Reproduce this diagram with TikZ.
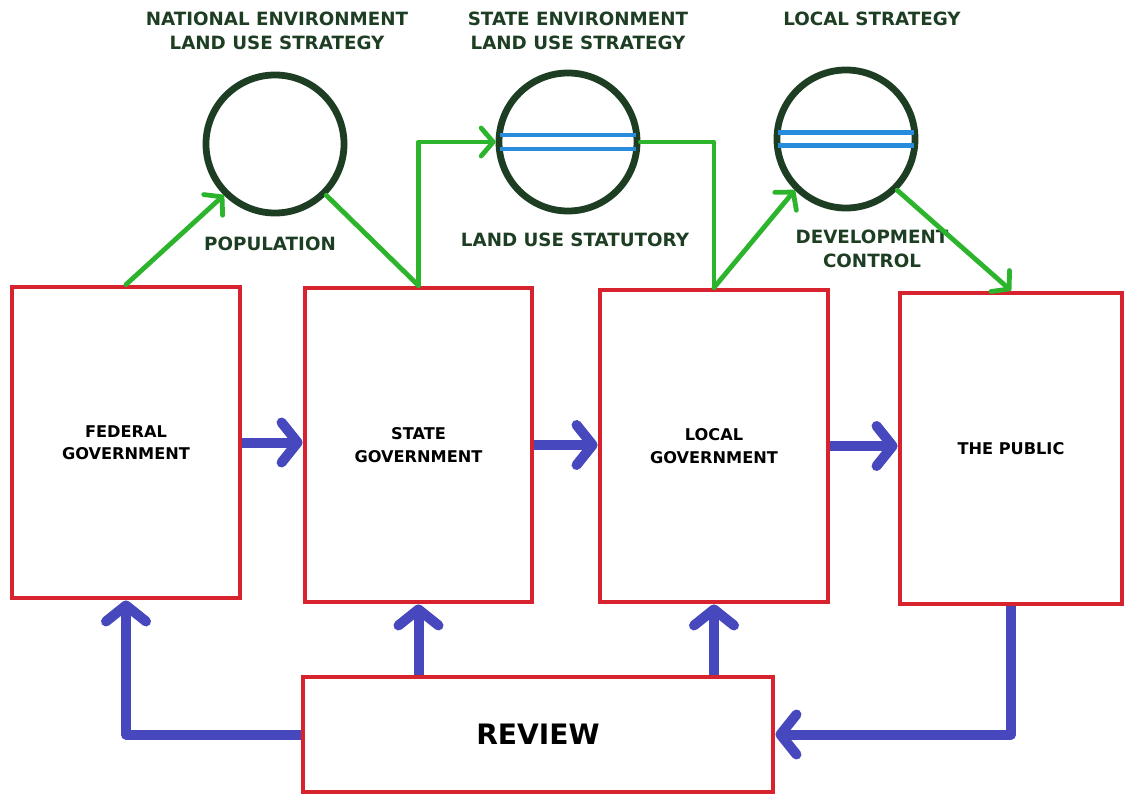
\documentclass[tikz,border=0pt]{standalone}
\usepackage{fontspec}
\setmainfont{DejaVu Sans}
\usetikzlibrary{arrows.meta,calc}
\definecolor{boxred}{RGB}{214,35,45}
\definecolor{ringgreen}{RGB}{30,62,36}
\definecolor{flowgreen}{RGB}{45,180,45}
\definecolor{flowblue}{RGB}{72,72,190}
\definecolor{stripeblue}{RGB}{40,140,220}
\tikzstyle{govbox}=[rectangle, draw=boxred, line width=0.12cm, align=center, font=\bfseries\fontsize{11.5}{16}\selectfont]
\tikzstyle{ring}=[circle, draw=ringgreen, line width=0.17cm, minimum size=3.45cm, inner sep=0pt]
\tikzstyle{tag}=[align=center, text=ringgreen, font=\bfseries\fontsize{13}{17}\selectfont]
\tikzstyle{stripe}=[draw=stripeblue, line width=0.12cm]
\tikzstyle{greenflow}=[draw=flowgreen, line width=0.12cm, line cap=round, line join=round]
\tikzstyle{greenarrow}=[greenflow, -{Straight Barb[round,length=3mm,width=7mm]}]
\tikzstyle{bluearrow}=[draw=flowblue, line width=0.25cm, line join=round, -{Straight Barb[round,length=4mm,width=10mm]}]

\begin{document}
\begin{tikzpicture}[x=0.025cm, y=-0.025cm]
		   \useasboundingbox (0,0) rectangle (1126,795);
		   \begin{scope}
			   \node (fed) at (126, 442.5) [govbox, minimum width=5.7cm, minimum height=7.775cm] {FEDERAL\\GOVERNMENT};
			   \node (state) at (418.5, 445) [govbox, minimum width=5.675cm, minimum height=7.85cm] {STATE\\GOVERNMENT};
			   \node (local) at (714, 446) [govbox, minimum width=5.7cm, minimum height=7.8cm] {LOCAL\\GOVERNMENT};
			   \node (pub) at (1011, 448.5) [govbox, minimum width=5.55cm, minimum height=7.775cm] {THE PUBLIC};
			   \node (review) at (538, 734.5) [govbox, minimum width=11.75cm, minimum height=2.875cm, font=\bfseries\fontsize{20}{24}\selectfont] {REVIEW};

			   \node (c1) at (275, 144) [ring] {};
			   \node (c2) at (568, 142) [ring] {};
			   \node (c3) at (846, 139) [ring] {};

			   \node (t1) at (277, 31) [tag] {NATIONAL ENVIRONMENT\\LAND USE STRATEGY};
			   \node (t2) at (578, 31) [tag] {STATE ENVIRONMENT\\LAND USE STRATEGY};
			   \node (t3) at (872, 19) [tag] {LOCAL STRATEGY};
			   \node (t4) at (270, 244) [tag] {POPULATION};
			   \node (t5) at (575, 240) [tag] {LAND USE STATUTORY};
			   \node (t6) at (872, 249) [tag] {DEVELOPMENT\\CONTROL};
		   \end{scope}
		   \begin{scope}
			   % stripes across the two strategy rings
			   \draw [stripe] ($(c2.west)+(4,-7)$) -- ($(c2.east)+(-4,-7)$);
			   \draw [stripe] ($(c2.west)+(4,7)$) -- ($(c2.east)+(-4,7)$);
			   \draw [stripe] ($(c3.west)+(4,-6.5)$) -- ($(c3.east)+(-4,-6.5)$);
			   \draw [stripe] ($(c3.west)+(4,6.5)$) -- ($(c3.east)+(-4,6.5)$);

			   \draw [greenarrow] (fed.north) -- (c1.225);
			   \draw [greenflow] (c1.-45) -- (state.north);
			   \draw [greenarrow] (state.north) |- (c2.west);
			   \draw [greenflow] (c2.east) -| (local.north);
			   \draw [greenarrow] (local.north) -- (c3.225);
			   \draw [greenarrow] (c3.-45) -- (pub.north);

			   \draw [bluearrow] (fed.east) -- (fed.east -| state.west);
			   \draw [bluearrow] (state.east) -- (state.east -| local.west);
			   \draw [bluearrow] (local.east) -- (local.east -| pub.west);

			   \draw [bluearrow] (review.north -| state.south) -- (state.south);
			   \draw [bluearrow] (review.north -| local.south) -- (local.south);
			   \draw [bluearrow] (review.west) -| (fed.south);
			   \draw [bluearrow] (pub.south) |- (review.east);
		   \end{scope}
	   \end{tikzpicture}
\end{document}
